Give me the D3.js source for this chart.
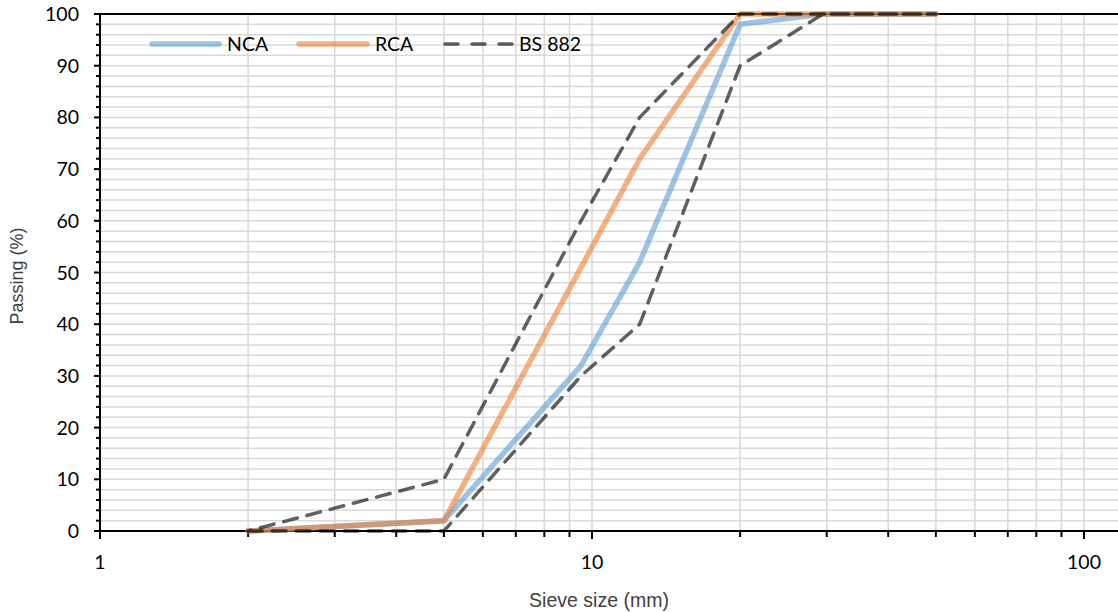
<!DOCTYPE html>
<html><head><meta charset="utf-8">
<script src="https://cdn.jsdelivr.net/npm/d3@7/dist/d3.min.js"></script>
<style>body{margin:0;background:#fff}svg{display:block}</style>
</head><body>
<svg id="c" width="1118" height="612"></svg>
<script>
const sieve = [2, 5, 9.5, 12.5, 20, 29.5, 50];
const nca = [0, 2, 32, 52, 98, 100, 100];
const rca = [0, 2, 51, 72, 100, 100, 100];
const bsLower = [0, 0, 30, 40, 90, 100, 100];
const bsUpper = [0, 10, 60, 80, 100, 100, 100];
const xTickLabels = [1, 10, 100];
const yTickLabels = [0, 10, 20, 30, 40, 50, 60, 70, 80, 90, 100];
const seriesNames = ["NCA", "RCA", "BS 882"];

const svg = d3.select("#c");
const L = 100, R = 1118, T = 14, B = 531;
const x = d3.scaleLog().domain([1, 100]).range([L, 1084]);
const xMax = x.invert(R);
const y = d3.scaleLinear().domain([0, 100]).range([B, T]);

// grid
const g = svg.append("g");
const minorX = [];
for (let d = 1; d <= 100; d *= 10) for (let k = 1; k <= 9; k++) { const v = d * k; if (v <= xMax) minorX.push(v); }
const yMinor = d3.range(0, 101, 2);
g.selectAll("line.hy").data(yMinor).join("line")
  .attr("x1", L).attr("x2", R).attr("y1", d => y(d)).attr("y2", d => y(d))
  .attr("stroke", "#d9d9d9").attr("stroke-width", 1.5);
g.selectAll("line.vx").data(minorX.filter(v => v > 1)).join("line")
  .attr("x1", d => x(d)).attr("x2", d => x(d)).attr("y1", T).attr("y2", B)
  .attr("stroke", "#d9d9d9").attr("stroke-width", 1.5);

// axes lines
svg.append("line").attr("x1", 96).attr("x2", R).attr("y1", T).attr("y2", T).attr("stroke", "#000").attr("stroke-width", 2);
svg.append("line").attr("x1", 94).attr("x2", R).attr("y1", B).attr("y2", B).attr("stroke", "#000").attr("stroke-width", 2);
svg.append("line").attr("x1", L).attr("x2", L).attr("y1", T - 1).attr("y2", B + 8).attr("stroke", "#000").attr("stroke-width", 2);

// y ticks
svg.selectAll("line.yt").data(yMinor).join("line")
  .attr("x1", d => d % 10 === 0 ? 94 : 96).attr("x2", L).attr("y1", d => y(d)).attr("y2", d => y(d))
  .attr("stroke", "#000").attr("stroke-width", 2);
// x ticks
svg.selectAll("line.xt").data(minorX).join("line")
  .attr("x1", d => x(d)).attr("x2", d => x(d)).attr("y1", B).attr("y2", d => xTickLabels.includes(d) ? B + 8 : B + 6)
  .attr("stroke", "#000").attr("stroke-width", 2);

const tickFont = "Lato, 'Open Sans', sans-serif";
svg.selectAll("text.yl").data(yTickLabels).join("text")
  .attr("x", 79).attr("y", d => y(d)).attr("dy", "0.36em").attr("text-anchor", "end")
  .attr("font-family", tickFont).attr("font-size", 19.5).attr("fill", "#000").text(d => d);
svg.selectAll("text.xl").data(xTickLabels).join("text")
  .attr("x", d => x(d)).attr("y", 569).attr("text-anchor", "middle")
  .attr("font-family", tickFont).attr("font-size", 19.5).attr("fill", "#000").text(d => d);

// axis titles
svg.append("text").attr("transform", "translate(23,276) rotate(-90)").attr("text-anchor", "middle")
  .attr("font-family", "'Liberation Sans', Arial, sans-serif").attr("font-size", 18).attr("fill", "#404040").text("Passing (%)");
svg.append("text").attr("x", 599).attr("y", 607).attr("text-anchor", "middle")
  .attr("font-family", "'Liberation Sans', Arial, sans-serif").attr("font-size", 19.5).attr("fill", "#404040").text("Sieve size (mm)");

// lines
const line = d3.line().x(d => x(d[0])).y(d => y(d[1]));
const ncaPts = sieve.map((s, i) => [s, nca[i]]);
const rcaPts = sieve.map((s, i) => [s, rca[i]]);
const bsPts = sieve.map((s, i) => [s, bsLower[i]]).concat(sieve.map((s, i) => [s, bsUpper[i]]).reverse());

svg.append("path").attr("d", line(ncaPts)).attr("fill", "none").attr("stroke", "#5B9BD5").attr("stroke-opacity", 0.6)
  .attr("stroke-width", 5.5).attr("stroke-linejoin", "round").attr("stroke-linecap", "round");
svg.append("path").attr("d", line(rcaPts)).attr("fill", "none").attr("stroke", "#ED7D31").attr("stroke-opacity", 0.6)
  .attr("stroke-width", 5.5).attr("stroke-linejoin", "round").attr("stroke-linecap", "round");
svg.append("path").attr("d", line(bsPts)).attr("fill", "none").attr("stroke", "#000").attr("stroke-opacity", 0.62)
  .attr("stroke-width", 3.5).attr("stroke-dasharray", "14,10").attr("stroke-linejoin", "round").attr("stroke-linecap", "round");

// legend
const leg = [
  {name: seriesNames[0], x1: 152, x2: 219, tx: 227, color: "#5B9BD5", op: 0.6, w: 5.5, dash: null},
  {name: seriesNames[1], x1: 299, x2: 367, tx: 375, color: "#ED7D31", op: 0.6, w: 5.5, dash: null},
  {name: seriesNames[2], x1: 445, x2: 513, tx: 519, color: "#000", op: 0.62, w: 3.5, dash: "13,14"}
];
const ly = 44;
leg.forEach(d => {
  svg.append("line").attr("x1", d.x1).attr("x2", d.x2).attr("y1", ly).attr("y2", ly)
    .attr("stroke", d.color).attr("stroke-opacity", d.op).attr("stroke-width", d.w)
    .attr("stroke-linecap", "round").attr("stroke-dasharray", d.dash);
  svg.append("text").attr("x", d.tx).attr("y", ly).attr("dy", "0.36em")
    .attr("font-family", tickFont).attr("font-size", 19.5).attr("fill", "#000").text(d.name);
});
</script>
</body></html>
